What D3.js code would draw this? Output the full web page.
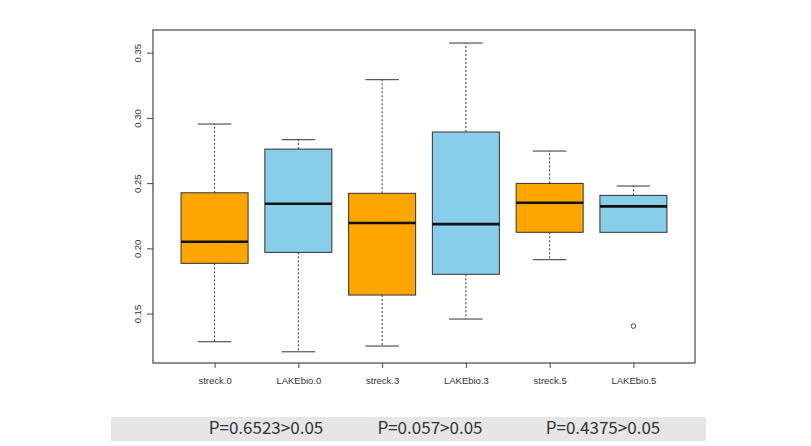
<!DOCTYPE html>
<html>
<head>
<meta charset="utf-8">
<script src="https://cdn.jsdelivr.net/npm/d3@7"></script>
<style>
  body { margin: 0; background: #fff; }
  svg { display: block; }
</style>
</head>
<body>
<div id="chart"></div>
<script>
// Box statistics
const categories = ["streck.0", "LAKEbio.0", "streck.3", "LAKEbio.3", "streck.5", "LAKEbio.5"];
const whiskerHigh = [0.2953, 0.2833, 0.3293, 0.3574, 0.2746, 0.2478];
const q3Values    = [0.2426, 0.2761, 0.2422, 0.2892, 0.2498, 0.2406];
const medians     = [0.2051, 0.2342, 0.2194, 0.2186, 0.2350, 0.2322];
const q1Values    = [0.1885, 0.1969, 0.1642, 0.1801, 0.2123, 0.2123];
const whiskerLow  = [0.1284, 0.1207, 0.1251, 0.1458, 0.1913, 0.2123];
const outliers    = [[], [], [], [], [], [0.1404]];
const boxColors   = ["#FFA500", "#87CEEB"];
const yTicks      = [0.15, 0.20, 0.25, 0.30, 0.35];
const pLabels     = ["P=0.6523>0.05", "P=0.057>0.05", "P=0.4375>0.05"];

const width = 811, height = 446;
const plot = {left: 153, right: 695, top: 30, bottom: 363};

const svg = d3.select("#chart")
              .append("svg")
              .attr("width", width)
              .attr("height", height);

const x = d3.scaleLinear()
            .domain([0.265, 6.735])
            .range([plot.left, plot.right]);

const y = d3.scaleLinear()
            .domain([0.1121, 0.3674])
            .range([plot.bottom, plot.top]);

const boxes = categories.map((c, i) => ({
    name: c, pos: i + 1,
    hi: whiskerHigh[i], q3: q3Values[i], med: medians[i],
    q1: q1Values[i], lo: whiskerLow[i], out: outliers[i],
    fill: boxColors[i % 2]
}));

const bw = x(0.4) - x(0);   // half box width (boxwex 0.8)
const sw = bw / 2;          // half staple width

const g = svg.append("g");

// whiskers (dashed)
g.selectAll(".whisk-up")
 .data(boxes).enter().append("line")
 .attr("x1", d => x(d.pos)).attr("x2", d => x(d.pos))
 .attr("y1", d => y(d.q3)).attr("y2", d => y(d.hi))
 .attr("stroke", "#333").attr("stroke-width", 1)
 .attr("stroke-dasharray", "2,2");

g.selectAll(".whisk-down")
 .data(boxes.filter(d => d.lo < d.q1)).enter().append("line")
 .attr("x1", d => x(d.pos)).attr("x2", d => x(d.pos))
 .attr("y1", d => y(d.q1)).attr("y2", d => y(d.lo))
 .attr("stroke", "#333").attr("stroke-width", 1)
 .attr("stroke-dasharray", "2,2");

// staples
g.selectAll(".staple-up")
 .data(boxes).enter().append("line")
 .attr("x1", d => x(d.pos) - sw).attr("x2", d => x(d.pos) + sw)
 .attr("y1", d => y(d.hi)).attr("y2", d => y(d.hi))
 .attr("stroke", "#333").attr("stroke-width", 1);

g.selectAll(".staple-down")
 .data(boxes.filter(d => d.lo < d.q1)).enter().append("line")
 .attr("x1", d => x(d.pos) - sw).attr("x2", d => x(d.pos) + sw)
 .attr("y1", d => y(d.lo)).attr("y2", d => y(d.lo))
 .attr("stroke", "#333").attr("stroke-width", 1);

// boxes
g.selectAll("rect.box")
 .data(boxes).enter().append("rect")
 .attr("class", "box")
 .attr("x", d => x(d.pos) - bw)
 .attr("width", 2 * bw)
 .attr("y", d => y(d.q3))
 .attr("height", d => y(d.q1) - y(d.q3))
 .attr("fill", d => d.fill)
 .attr("stroke", "#333").attr("stroke-width", 1);

// medians
g.selectAll(".median")
 .data(boxes).enter().append("line")
 .attr("x1", d => x(d.pos) - bw).attr("x2", d => x(d.pos) + bw)
 .attr("y1", d => y(d.med)).attr("y2", d => y(d.med))
 .attr("stroke", "#111").attr("stroke-width", 2.6);

// outliers
boxes.forEach(b => {
    g.selectAll(null)
     .data(b.out).enter().append("circle")
     .attr("cx", x(b.pos)).attr("cy", d => y(d))
     .attr("r", 2.3)
     .attr("fill", "none").attr("stroke", "#333").attr("stroke-width", 0.9);
});

// frame
svg.append("rect")
   .attr("x", plot.left).attr("y", plot.top)
   .attr("width", plot.right - plot.left)
   .attr("height", plot.bottom - plot.top)
   .attr("fill", "none").attr("stroke", "#444").attr("stroke-width", 1.2);

// y axis
const yAxis = svg.append("g")
   .attr("transform", `translate(${plot.left},0)`)
   .call(d3.axisLeft(y).tickValues(yTicks).tickFormat(d3.format(".2f")).tickSize(6).tickPadding(0));
yAxis.select(".domain").remove();
yAxis.selectAll("line").attr("stroke", "#444");
yAxis.selectAll("text")
     .attr("x", null).attr("dy", null)
     .attr("transform", "translate(-12,0) rotate(-90)")
     .attr("text-anchor", "middle")
     .attr("fill", "#333")
     .style("font-family", "'Liberation Sans', Arial, sans-serif")
     .style("font-size", "9.5px");

// x axis
const xAxis = svg.append("g")
   .attr("transform", `translate(0,${plot.bottom})`)
   .call(d3.axisBottom(x).tickValues(boxes.map(d => d.pos))
           .tickFormat((d, i) => categories[i]).tickSize(5).tickPadding(9));
xAxis.select(".domain").remove();
xAxis.selectAll("line").attr("stroke", "#444");
xAxis.selectAll("text")
     .attr("fill", "#333")
     .style("font-family", "'Liberation Sans', Arial, sans-serif")
     .style("font-size", "9.5px");

// P-value band
const pBand = d3.scaleBand().domain(pLabels).range([180, 690]);
svg.append("rect")
   .attr("x", 111).attr("y", 417)
   .attr("width", 595).attr("height", 24)
   .attr("fill", "#e6e6e6");
svg.selectAll(".pval")
   .data(pLabels).enter().append("text")
   .attr("x", (d, i) => [266, 430, 603][i])
   .attr("y", 434)
   .attr("text-anchor", "middle")
   .attr("fill", "#333")
   .style("font-family", "'Noto Sans CJK SC', 'Noto Sans', sans-serif")
   .style("font-size", "17px")
   .text(d => d);
</script>
</body>
</html>
